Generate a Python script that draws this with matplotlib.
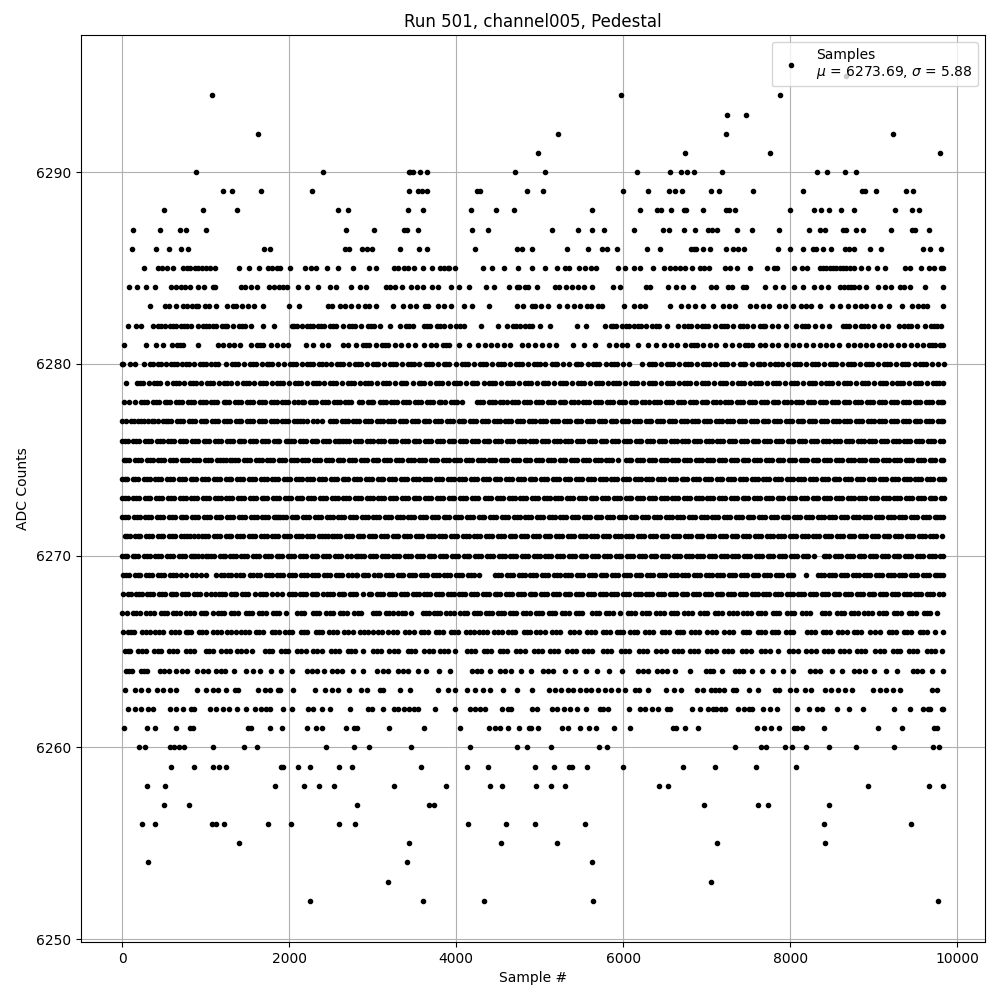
import matplotlib
matplotlib.use("Agg")
import matplotlib.pyplot as plt

c6295 = [8674]
c6294 = [1081, 5973, 7874]
c6293 = [7250, 7466]
c6292 = [1633, 5217, 7238, 9230]
c6291 = [4977, 6741, 7754, 9794]
c6290 = [890, 2411, 3440, 3453, 3481, 3573, 3649, 4701, 5061, 6165, 6561, 6693, 6765, 6849, 7190, 8318, 8438, 8654, 8786]
c6289 = [1214, 1322, 1668, 2280, 3440, 3549, 3589, 3649, 4253, 4285, 4845, 5037, 5997, 6297, 6549, 6621, 6705, 7058, 7154, 7550, 8150, 8858, 8894, 9026, 9386, 9470]
c6288 = [497, 964, 1371, 2585, 2705, 3429, 3609, 4173, 4473, 4689, 5625, 6201, 6405, 6453, 6573, 6729, 6753, 6962, 7238, 7274, 7346, 7994, 8282, 8366, 8462, 8606, 8762, 9254, 9458, 9542]
c6287 = [125, 449, 689, 761, 1001, 2681, 3017, 3377, 3413, 3549, 4189, 4385, 5145, 5457, 5625, 5769, 6129, 6477, 6549, 6729, 6861, 7022, 7070, 7130, 7370, 7538, 7862, 8222, 8354, 8414, 8634, 8666, 8786, 8870, 9206, 9458, 9494, 9662]
c6286 = [113, 401, 557, 701, 785, 1697, 1773, 2669, 2717, 2873, 2933, 2993, 3329, 3561, 3657, 4221, 4725, 4785, 4905, 5329, 5577, 5745, 5805, 5921, 6285, 6441, 6813, 6854, 6873, 6962, 7046, 7238, 7322, 7382, 7442, 7850, 7994, 8150, 8270, 8306, 8390, 8486, 8654, 8702, 8762, 8958, 9094, 9590, 9674, 9806]
c6285 = [257, 425, 473, 533, 605, 729, 777, 809, 869, 905, 953, 1001, 1049, 1109, 1397, 1517, 1637, 1745, 1800, 1860, 1889, 2009, 2189, 2261, 2321, 2453, 2589, 2765, 2953, 3041, 3257, 3309, 3381, 3421, 3493, 3609, 3717, 3813, 3850, 3900, 3921, 3981, 4317, 4425, 4569, 4741, 4905, 5061, 5209, 5301, 5349, 5469, 5541, 5613, 5673, 5933, 6021, 6129, 6201, 6357, 6489, 6561, 6621, 6681, 6741, 6821, 6926, 6974, 7034, 7226, 7286, 7370, 7514, 7718, 7802, 7838, 8042, 8138, 8198, 8354, 8394, 8434, 8474, 8514, 8554, 8594, 8634, 8674, 8714, 8762, 8846, 8930, 9038, 9134, 9374, 9434, 9562, 9662, 9722, 9806, 9830]
c6284 = [77, 173, 281, 389, 589, 640, 700, 749, 809, 909, 981, 1089, 1117, 1421, 1469, 1541, 1613, 1757, 1821, 1877, 1929, 1969, 2105, 2213, 2345, 2489, 2561, 2741, 2849, 2921, 3161, 3209, 3269, 3349, 3461, 3533, 3609, 3717, 3781, 3933, 4029, 4149, 4353, 4457, 4629, 4725, 4749, 4821, 4861, 4969, 5189, 5229, 5313, 5385, 5457, 5529, 5625, 5877, 5961, 6273, 6321, 6537, 6633, 6721, 6837, 7058, 7118, 7262, 7310, 7430, 7466, 7694, 7814, 7910, 8042, 8150, 8282, 8366, 8450, 8594, 8640, 8690, 8730, 8770, 8820, 8914, 9050, 9134, 9214, 9314, 9362, 9434, 9614, 9830]
c6283 = [329, 509, 557, 641, 729, 781, 833, 889, 909, 989, 1040, 1129, 1261, 1329, 1369, 1433, 1505, 1581, 1685, 1997, 2117, 2461, 2517, 2609, 2669, 2741, 2829, 2909, 2957, 3045, 3241, 3369, 3453, 3521, 3629, 3661, 3789, 3861, 3933, 4089, 4185, 4389, 4725, 4801, 4909, 4941, 5013, 5097, 5229, 5325, 5409, 5481, 5565, 5621, 5701, 5749, 6009, 6129, 6201, 6261, 6561, 6693, 6781, 6861, 6954, 7082, 7202, 7274, 7346, 7514, 7594, 7674, 7742, 7862, 7934, 8034, 8126, 8194, 8254, 8354, 8498, 8594, 8694, 8774, 8854, 8914, 8994, 9074, 9182, 9338, 9458, 9534, 9594, 9642, 9830]
c6282 = [75, 165, 230, 365, 425, 470, 510, 575, 610, 640, 700, 745, 772, 830, 905, 965, 1010, 1040, 1090, 1130, 1195, 1230, 1260, 1330, 1395, 1435, 1470, 1540, 1690, 1815, 2030, 2060, 2095, 2160, 2215, 2250, 2290, 2350, 2385, 2420, 2490, 2525, 2560, 2640, 2720, 2755, 2790, 2860, 2945, 2980, 3020, 3090, 3210, 3330, 3400, 3440, 3480, 3610, 3650, 3690, 3770, 3810, 3850, 3930, 4000, 4045, 4090, 4300, 4500, 4610, 4680, 4720, 4760, 4830, 4870, 4910, 5010, 5125, 5450, 5560, 5780, 5850, 5885, 5920, 5990, 6030, 6065, 6135, 6175, 6210, 6275, 6350, 6390, 6425, 6520, 6660, 6735, 6775, 6810, 6880, 6950, 6985, 7020, 7105, 7170, 7210, 7245, 7320, 7400, 7440, 7480, 7560, 7640, 7670, 7700, 7780, 7860, 7945, 8070, 8140, 8175, 8210, 8300, 8385, 8460, 8630, 8670, 8710, 8780, 8850, 8890, 8930, 9010, 9100, 9170, 9300, 9370, 9410, 9450, 9520, 9610, 9685, 9725, 9760, 9810]
c6281 = [25, 290, 405, 485, 600, 660, 695, 730, 905, 1150, 1205, 1280, 1345, 1410, 1545, 1620, 1655, 1690, 1785, 1850, 1925, 1985, 2200, 2290, 2400, 2470, 2640, 2710, 2800, 2880, 2920, 2960, 3040, 3115, 3150, 3190, 3265, 3345, 3430, 3505, 3620, 3700, 3765, 3840, 3875, 3910, 4040, 4160, 4260, 4345, 4420, 4490, 4575, 4650, 4790, 4860, 4940, 5030, 5110, 5195, 5400, 5530, 5660, 5830, 5920, 5985, 6050, 6180, 6300, 6390, 6490, 6570, 6645, 6740, 6815, 6850, 6890, 6955, 7040, 7115, 7225, 7310, 7390, 7460, 7500, 7545, 7635, 7705, 7780, 7860, 7945, 8030, 8105, 8185, 8280, 8355, 8425, 8500, 8590, 8690, 8770, 8840, 8905, 8980, 9060, 9135, 9210, 9295, 9370, 9445, 9515, 9590, 9665, 9700, 9740, 9800, 9830]
c6280 = [0, 15, 95, 160, 260, 330, 375, 430, 465, 530, 590, 625, 655, 720, 765, 800, 860, 930, 970, 1000, 1070, 1110, 1150, 1250, 1320, 1355, 1390, 1465, 1530, 1570, 1600, 1670, 1730, 1765, 1800, 1865, 1935, 2010, 2045, 2080, 2150, 2215, 2250, 2290, 2360, 2400, 2440, 2505, 2575, 2610, 2650, 2720, 2790, 2825, 2860, 2930, 3000, 3035, 3070, 3140, 3210, 3245, 3285, 3350, 3420, 3455, 3490, 3560, 3640, 3675, 3710, 3780, 3850, 3885, 3920, 4000, 4075, 4110, 4145, 4220, 4290, 4325, 4360, 4430, 4500, 4535, 4570, 4640, 4715, 4750, 4790, 4860, 4930, 4965, 5000, 5070, 5145, 5180, 5210, 5280, 5355, 5430, 5465, 5500, 5575, 5640, 5680, 5715, 5790, 5860, 5895, 5930, 6000, 6075, 6230, 6310, 6345, 6380, 6450, 6525, 6560, 6600, 6670, 6745, 6780, 6815, 6885, 6960, 6995, 7030, 7105, 7175, 7210, 7250, 7320, 7395, 7430, 7465, 7540, 7610, 7645, 7685, 7755, 7825, 7860, 7900, 7970, 8045, 8080, 8115, 8190, 8260, 8295, 8335, 8405, 8480, 8515, 8550, 8625, 8695, 8730, 8765, 8840, 8910, 8945, 8985, 9055, 9125, 9160, 9200, 9270, 9345, 9380, 9415, 9490, 9560, 9595, 9630, 9705, 9775, 9842]
c6279 = [45, 180, 215, 245, 320, 385, 420, 455, 540, 610, 645, 680, 745, 815, 850, 880, 950, 1020, 1055, 1085, 1155, 1225, 1260, 1300, 1375, 1445, 1480, 1515, 1585, 1650, 1685, 1720, 1790, 1860, 1895, 1930, 2000, 2070, 2105, 2140, 2210, 2285, 2320, 2355, 2420, 2490, 2525, 2560, 2630, 2705, 2740, 2775, 2845, 2915, 2950, 2985, 3055, 3125, 3160, 3195, 3265, 3335, 3370, 3405, 3480, 3550, 3585, 3620, 3690, 3760, 3795, 3830, 3905, 3975, 4010, 4045, 4115, 4185, 4220, 4255, 4330, 4400, 4435, 4470, 4540, 4610, 4645, 4680, 4750, 4825, 4860, 4895, 4965, 5035, 5070, 5105, 5175, 5250, 5285, 5320, 5390, 5460, 5495, 5530, 5600, 5675, 5710, 5745, 5815, 5885, 5920, 5955, 6025, 6100, 6135, 6170, 6240, 6310, 6345, 6380, 6450, 6525, 6560, 6595, 6665, 6735, 6770, 6805, 6875, 6950, 6985, 7020, 7090, 7160, 7195, 7230, 7300, 7375, 7410, 7445, 7515, 7585, 7620, 7655, 7725, 7800, 7835, 7870, 7940, 8010, 8045, 8080, 8150, 8225, 8260, 8295, 8365, 8435, 8470, 8505, 8575, 8650, 8685, 8720, 8790, 8860, 8895, 8930, 9000, 9075, 9110, 9145, 9215, 9285, 9320, 9355, 9425, 9500, 9535, 9570, 9640, 9710, 9745, 9780, 9835]
c6278 = [17, 85, 150, 225, 262, 301, 369, 405, 440, 510, 540, 575, 650, 685, 720, 790, 825, 860, 930, 965, 1000, 1070, 1105, 1141, 1217, 1250, 1285, 1355, 1390, 1425, 1495, 1530, 1565, 1640, 1675, 1710, 1780, 1815, 1850, 1920, 1955, 1990, 2060, 2110, 2157, 2181, 2250, 2285, 2320, 2395, 2430, 2465, 2535, 2570, 2605, 2675, 2710, 2745, 2841, 2869, 2940, 2975, 3010, 3085, 3120, 3155, 3225, 3260, 3295, 3365, 3400, 3440, 3510, 3545, 3580, 3650, 3685, 3720, 3790, 3825, 3865, 3935, 3970, 4005, 4075, 4250, 4285, 4320, 4390, 4425, 4460, 4530, 4565, 4605, 4675, 4710, 4745, 4815, 4850, 4885, 4955, 4990, 5030, 5100, 5135, 5170, 5240, 5275, 5310, 5380, 5415, 5455, 5525, 5560, 5595, 5665, 5700, 5735, 5805, 5840, 5880, 5950, 5985, 6020, 6090, 6125, 6160, 6230, 6265, 6305, 6375, 6410, 6445, 6515, 6550, 6585, 6655, 6690, 6730, 6800, 6835, 6870, 6940, 6975, 7010, 7080, 7115, 7155, 7225, 7260, 7295, 7365, 7400, 7435, 7505, 7540, 7580, 7650, 7685, 7720, 7790, 7825, 7860, 7930, 7965, 8005, 8075, 8110, 8145, 8215, 8250, 8285, 8355, 8390, 8430, 8500, 8535, 8570, 8640, 8675, 8710, 8780, 8815, 8855, 8925, 8960, 8995, 9065, 9100, 9135, 9205, 9240, 9280, 9350, 9385, 9420, 9490, 9525, 9560, 9630, 9665, 9705, 9775, 9810, 9835]
c6277 = [0, 50, 110, 140, 190, 230, 257, 310, 360, 377, 435, 489, 521, 555, 590, 660, 695, 730, 800, 835, 870, 940, 975, 1010, 1080, 1115, 1150, 1220, 1255, 1290, 1360, 1395, 1430, 1500, 1535, 1570, 1640, 1675, 1710, 1780, 1815, 1850, 1920, 1955, 1990, 2060, 2095, 2130, 2170, 2209, 2289, 2340, 2397, 2489, 2525, 2560, 2630, 2665, 2700, 2770, 2805, 2840, 2910, 2945, 2980, 3050, 3085, 3120, 3190, 3225, 3260, 3330, 3365, 3400, 3470, 3505, 3540, 3610, 3645, 3680, 3750, 3785, 3820, 3890, 3925, 3960, 4030, 4065, 4100, 4170, 4205, 4240, 4310, 4345, 4380, 4450, 4485, 4520, 4590, 4625, 4660, 4730, 4765, 4800, 4870, 4905, 4940, 5010, 5045, 5080, 5150, 5185, 5220, 5290, 5325, 5360, 5430, 5465, 5500, 5570, 5605, 5640, 5710, 5745, 5780, 5850, 5885, 5920, 5990, 6025, 6060, 6130, 6165, 6200, 6270, 6305, 6340, 6410, 6445, 6480, 6550, 6585, 6620, 6690, 6725, 6760, 6830, 6865, 6900, 6970, 7005, 7040, 7110, 7145, 7180, 7250, 7285, 7320, 7390, 7425, 7460, 7530, 7565, 7600, 7670, 7705, 7740, 7810, 7845, 7880, 7950, 7985, 8020, 8090, 8125, 8160, 8230, 8265, 8300, 8370, 8405, 8440, 8510, 8545, 8580, 8650, 8685, 8720, 8790, 8825, 8860, 8930, 8965, 9000, 9070, 9105, 9140, 9210, 9245, 9280, 9350, 9385, 9420, 9490, 9525, 9560, 9630, 9665, 9700, 9770, 9805, 9835]
c6276 = [0, 30, 65, 135, 170, 205, 275, 310, 345, 415, 450, 485, 555, 590, 625, 695, 730, 765, 835, 870, 905, 975, 1010, 1045, 1115, 1150, 1185, 1255, 1290, 1325, 1395, 1430, 1465, 1535, 1570, 1605, 1675, 1710, 1745, 1815, 1850, 1885, 1957, 1989, 2025, 2060, 2130, 2165, 2200, 2270, 2305, 2340, 2410, 2445, 2480, 2550, 2580, 2613, 2649, 2685, 2720, 2790, 2825, 2860, 2930, 2965, 3000, 3070, 3105, 3140, 3210, 3245, 3280, 3350, 3385, 3420, 3490, 3525, 3560, 3630, 3665, 3700, 3770, 3805, 3840, 3910, 3945, 3980, 4050, 4085, 4120, 4190, 4225, 4260, 4330, 4365, 4400, 4470, 4505, 4540, 4610, 4645, 4680, 4750, 4785, 4820, 4890, 4925, 4960, 5030, 5065, 5100, 5170, 5205, 5240, 5310, 5345, 5380, 5450, 5485, 5520, 5590, 5625, 5660, 5730, 5765, 5800, 5870, 5905, 5940, 6010, 6045, 6080, 6150, 6185, 6220, 6290, 6325, 6360, 6430, 6465, 6500, 6570, 6605, 6640, 6710, 6745, 6780, 6850, 6885, 6920, 6990, 7025, 7060, 7130, 7165, 7200, 7270, 7305, 7340, 7410, 7445, 7480, 7550, 7585, 7620, 7690, 7725, 7760, 7830, 7865, 7900, 7970, 8005, 8040, 8110, 8145, 8180, 8250, 8285, 8320, 8390, 8425, 8460, 8530, 8565, 8600, 8670, 8705, 8740, 8810, 8845, 8880, 8950, 8985, 9020, 9090, 9125, 9160, 9230, 9265, 9300, 9370, 9405, 9440, 9510, 9545, 9580, 9650, 9685, 9720, 9790, 9835]
c6275 = [17, 50, 85, 155, 190, 225, 295, 330, 365, 435, 470, 505, 575, 610, 645, 715, 750, 785, 855, 890, 925, 995, 1030, 1065, 1135, 1170, 1205, 1250, 1297, 1317, 1355, 1390, 1460, 1495, 1530, 1600, 1635, 1670, 1740, 1775, 1810, 1880, 1915, 1950, 2020, 2055, 2090, 2160, 2195, 2230, 2300, 2335, 2370, 2440, 2475, 2510, 2580, 2615, 2650, 2720, 2755, 2790, 2860, 2895, 2930, 3000, 3035, 3070, 3140, 3175, 3210, 3280, 3315, 3350, 3420, 3455, 3490, 3560, 3595, 3630, 3700, 3735, 3770, 3840, 3875, 3910, 3980, 4015, 4050, 4120, 4155, 4190, 4260, 4295, 4330, 4400, 4435, 4470, 4540, 4575, 4610, 4680, 4715, 4750, 4820, 4855, 4890, 4960, 4995, 5030, 5100, 5135, 5170, 5240, 5275, 5310, 5380, 5415, 5450, 5520, 5555, 5590, 5660, 5695, 5730, 5800, 5835, 5870, 5940, 6040, 6070, 6100, 6170, 6205, 6240, 6310, 6345, 6380, 6450, 6485, 6520, 6590, 6625, 6660, 6730, 6765, 6800, 6870, 6905, 6940, 7010, 7045, 7080, 7150, 7185, 7220, 7290, 7325, 7360, 7430, 7465, 7500, 7570, 7605, 7640, 7710, 7745, 7780, 7850, 7885, 7920, 7990, 8025, 8060, 8130, 8165, 8200, 8270, 8305, 8340, 8410, 8445, 8480, 8550, 8585, 8620, 8690, 8725, 8760, 8830, 8865, 8900, 8970, 9005, 9040, 9110, 9145, 9180, 9250, 9285, 9320, 9390, 9425, 9460, 9530, 9565, 9600, 9670, 9705, 9740, 9810, 9835]
c6274 = [0, 30, 60, 125, 160, 190, 260, 295, 330, 400, 435, 470, 540, 575, 610, 680, 715, 750, 820, 855, 890, 960, 995, 1030, 1100, 1135, 1170, 1240, 1275, 1310, 1380, 1415, 1450, 1520, 1555, 1590, 1660, 1695, 1730, 1800, 1835, 1870, 1940, 1975, 2010, 2080, 2115, 2150, 2220, 2255, 2290, 2360, 2395, 2430, 2500, 2535, 2570, 2640, 2675, 2710, 2780, 2815, 2850, 2920, 2955, 2990, 3060, 3095, 3130, 3200, 3235, 3270, 3340, 3375, 3410, 3480, 3515, 3550, 3620, 3655, 3690, 3760, 3795, 3830, 3900, 3935, 3970, 4040, 4075, 4110, 4180, 4215, 4250, 4320, 4355, 4390, 4460, 4495, 4530, 4600, 4635, 4670, 4740, 4775, 4810, 4880, 4915, 4950, 5020, 5055, 5090, 5160, 5195, 5230, 5300, 5335, 5370, 5440, 5475, 5510, 5580, 5615, 5650, 5720, 5755, 5790, 5860, 5895, 5930, 6000, 6035, 6070, 6140, 6175, 6210, 6280, 6315, 6350, 6420, 6455, 6490, 6560, 6595, 6630, 6700, 6735, 6770, 6840, 6875, 6910, 6980, 7015, 7050, 7120, 7155, 7190, 7260, 7295, 7330, 7400, 7435, 7470, 7540, 7575, 7610, 7680, 7715, 7750, 7820, 7855, 7890, 7960, 7995, 8030, 8100, 8135, 8170, 8240, 8275, 8310, 8380, 8415, 8450, 8520, 8555, 8590, 8660, 8695, 8730, 8800, 8835, 8870, 8940, 8975, 9010, 9080, 9115, 9150, 9220, 9255, 9290, 9360, 9395, 9430, 9500, 9535, 9570, 9640, 9675, 9710, 9780, 9815, 9838]
c6273 = [0, 35, 65, 130, 165, 200, 270, 305, 340, 410, 445, 480, 550, 585, 620, 690, 725, 760, 830, 865, 900, 970, 1005, 1040, 1110, 1145, 1180, 1250, 1285, 1320, 1390, 1425, 1460, 1530, 1565, 1600, 1670, 1705, 1740, 1810, 1845, 1880, 1950, 1985, 2020, 2090, 2125, 2160, 2230, 2265, 2300, 2370, 2405, 2440, 2510, 2545, 2580, 2650, 2685, 2720, 2790, 2825, 2860, 2930, 2965, 3000, 3070, 3105, 3140, 3210, 3245, 3280, 3350, 3385, 3420, 3490, 3525, 3560, 3630, 3665, 3700, 3770, 3805, 3840, 3910, 3945, 3980, 4050, 4085, 4120, 4190, 4225, 4260, 4350, 4385, 4420, 4490, 4525, 4560, 4630, 4665, 4700, 4770, 4805, 4840, 4910, 4945, 4980, 5050, 5085, 5120, 5190, 5225, 5260, 5330, 5365, 5400, 5470, 5505, 5540, 5610, 5645, 5680, 5750, 5785, 5820, 5890, 5925, 5960, 6030, 6065, 6100, 6170, 6205, 6240, 6310, 6345, 6380, 6450, 6485, 6520, 6590, 6625, 6660, 6730, 6765, 6800, 6870, 6905, 6940, 7010, 7045, 7080, 7150, 7185, 7220, 7290, 7325, 7360, 7430, 7465, 7500, 7570, 7605, 7640, 7710, 7745, 7780, 7850, 7885, 7920, 7990, 8025, 8060, 8130, 8165, 8200, 8270, 8305, 8340, 8410, 8445, 8480, 8550, 8585, 8620, 8690, 8725, 8760, 8830, 8865, 8900, 8970, 9005, 9040, 9110, 9145, 9180, 9250, 9285, 9320, 9390, 9425, 9460, 9530, 9565, 9600, 9670, 9705, 9740, 9810, 9842]
c6272 = [0, 35, 70, 140, 175, 210, 280, 315, 350, 420, 455, 490, 560, 595, 630, 700, 735, 770, 840, 875, 910, 980, 1015, 1050, 1120, 1155, 1190, 1260, 1295, 1330, 1400, 1435, 1470, 1540, 1575, 1610, 1680, 1715, 1750, 1820, 1845, 1869, 1889, 1925, 1960, 2030, 2065, 2100, 2170, 2205, 2240, 2310, 2345, 2380, 2450, 2485, 2520, 2590, 2625, 2660, 2730, 2765, 2800, 2870, 2905, 2940, 3010, 3045, 3080, 3150, 3185, 3220, 3290, 3325, 3360, 3430, 3465, 3500, 3570, 3605, 3640, 3710, 3745, 3780, 3850, 3885, 3920, 3990, 4025, 4060, 4130, 4165, 4200, 4270, 4305, 4340, 4410, 4445, 4480, 4550, 4585, 4620, 4690, 4725, 4760, 4830, 4865, 4900, 4970, 5005, 5040, 5110, 5145, 5180, 5250, 5285, 5320, 5390, 5425, 5460, 5530, 5565, 5600, 5670, 5705, 5740, 5810, 5845, 5880, 5950, 5985, 6020, 6090, 6125, 6160, 6230, 6265, 6300, 6370, 6405, 6440, 6510, 6545, 6580, 6650, 6685, 6720, 6790, 6825, 6860, 6930, 6965, 7000, 7070, 7105, 7140, 7210, 7245, 7280, 7350, 7385, 7420, 7490, 7525, 7560, 7630, 7665, 7700, 7770, 7805, 7840, 7910, 7945, 7980, 8050, 8085, 8120, 8190, 8225, 8260, 8330, 8365, 8400, 8470, 8505, 8540, 8610, 8645, 8680, 8750, 8785, 8820, 8890, 8925, 8960, 9030, 9065, 9100, 9170, 9205, 9240, 9310, 9345, 9380, 9450, 9485, 9520, 9590, 9625, 9660, 9730, 9765, 9800, 9835]
c6271 = [30, 60, 90, 150, 185, 215, 285, 320, 355, 425, 460, 495, 565, 600, 635, 705, 740, 775, 817, 857, 909, 961, 995, 1030, 1100, 1135, 1170, 1240, 1275, 1310, 1380, 1415, 1450, 1520, 1555, 1590, 1660, 1695, 1730, 1800, 1835, 1870, 1940, 1975, 2010, 2080, 2115, 2150, 2220, 2255, 2290, 2360, 2395, 2430, 2470, 2509, 2537, 2575, 2610, 2680, 2715, 2750, 2820, 2855, 2890, 2960, 2995, 3030, 3100, 3135, 3170, 3240, 3275, 3310, 3380, 3415, 3450, 3520, 3555, 3590, 3660, 3695, 3730, 3800, 3835, 3870, 3940, 3975, 4010, 4080, 4115, 4150, 4220, 4255, 4290, 4360, 4395, 4430, 4500, 4535, 4570, 4640, 4675, 4710, 4780, 4815, 4850, 4920, 4955, 4990, 5060, 5095, 5130, 5200, 5235, 5270, 5340, 5375, 5410, 5480, 5515, 5550, 5620, 5655, 5690, 5760, 5795, 5830, 5900, 5935, 5970, 6040, 6075, 6110, 6180, 6215, 6250, 6320, 6355, 6390, 6460, 6495, 6530, 6600, 6635, 6670, 6740, 6775, 6810, 6880, 6915, 6950, 7020, 7055, 7090, 7160, 7195, 7230, 7300, 7335, 7370, 7440, 7475, 7510, 7580, 7615, 7650, 7720, 7755, 7790, 7860, 7895, 7930, 8000, 8035, 8070, 8140, 8175, 8210, 8280, 8315, 8350, 8420, 8455, 8490, 8560, 8595, 8630, 8700, 8735, 8770, 8840, 8875, 8910, 8980, 9015, 9050, 9120, 9155, 9190, 9260, 9295, 9330, 9400, 9435, 9470, 9540, 9575, 9610, 9680, 9715, 9750, 9820]
c6270 = [0, 30, 60, 125, 160, 190, 260, 295, 330, 400, 435, 470, 540, 575, 610, 680, 715, 750, 820, 850, 877, 909, 960, 1009, 1029, 1065, 1100, 1170, 1205, 1237, 1289, 1325, 1360, 1430, 1465, 1500, 1570, 1605, 1640, 1710, 1745, 1780, 1850, 1885, 1920, 1990, 2025, 2060, 2130, 2165, 2200, 2270, 2305, 2340, 2410, 2445, 2480, 2550, 2585, 2620, 2690, 2745, 2797, 2829, 2865, 2900, 2970, 3005, 3040, 3110, 3145, 3180, 3250, 3285, 3320, 3390, 3425, 3460, 3530, 3565, 3600, 3670, 3705, 3740, 3810, 3845, 3880, 3950, 3985, 4020, 4090, 4125, 4160, 4230, 4265, 4300, 4370, 4405, 4440, 4510, 4545, 4580, 4650, 4685, 4720, 4790, 4825, 4860, 4930, 4965, 5000, 5070, 5105, 5140, 5210, 5245, 5280, 5350, 5385, 5420, 5490, 5525, 5560, 5630, 5665, 5700, 5770, 5805, 5840, 5910, 5945, 5980, 6050, 6085, 6120, 6190, 6225, 6260, 6330, 6365, 6400, 6470, 6505, 6540, 6610, 6645, 6680, 6750, 6785, 6820, 6890, 6925, 6960, 7030, 7065, 7100, 7170, 7205, 7240, 7310, 7345, 7380, 7450, 7485, 7520, 7590, 7625, 7660, 7730, 7765, 7800, 7870, 7905, 7940, 8010, 8045, 8080, 8150, 8185, 8220, 8290, 8400, 8435, 8470, 8540, 8575, 8610, 8680, 8715, 8750, 8820, 8855, 8890, 8960, 8995, 9030, 9100, 9135, 9170, 9240, 9275, 9310, 9380, 9415, 9450, 9520, 9555, 9590, 9660, 9695, 9730, 9800, 9835]
c6269 = [15, 50, 80, 150, 185, 220, 290, 325, 360, 430, 465, 500, 570, 605, 640, 710, 760, 840, 885, 950, 1000, 1129, 1189, 1225, 1265, 1300, 1370, 1410, 1449, 1529, 1569, 1610, 1650, 1720, 1755, 1790, 1860, 1895, 1930, 2000, 2035, 2070, 2140, 2175, 2210, 2280, 2315, 2350, 2420, 2455, 2490, 2560, 2595, 2630, 2700, 2750, 2797, 2813, 2880, 2915, 2950, 3020, 3061, 3090, 3160, 3195, 3230, 3300, 3335, 3370, 3440, 3475, 3510, 3580, 3615, 3650, 3720, 3755, 3790, 3860, 3895, 3930, 4000, 4035, 4070, 4140, 4175, 4210, 4280, 4470, 4505, 4540, 4610, 4645, 4680, 4750, 4785, 4820, 4890, 4925, 4960, 5030, 5065, 5100, 5170, 5205, 5240, 5310, 5345, 5380, 5450, 5485, 5520, 5590, 5625, 5660, 5730, 5765, 5800, 5870, 5905, 5940, 6010, 6045, 6080, 6150, 6185, 6220, 6290, 6325, 6360, 6430, 6465, 6500, 6570, 6605, 6640, 6710, 6745, 6780, 6850, 6885, 6920, 6990, 7025, 7060, 7130, 7165, 7200, 7270, 7305, 7340, 7410, 7445, 7480, 7550, 7585, 7620, 7690, 7725, 7760, 7830, 7865, 7900, 7970, 8005, 8040, 8190, 8330, 8365, 8400, 8470, 8505, 8540, 8610, 8645, 8680, 8750, 8785, 8820, 8890, 8925, 8960, 9030, 9065, 9100, 9170, 9205, 9240, 9310, 9345, 9380, 9450, 9485, 9520, 9590, 9625, 9660, 9730, 9765, 9800, 9835]
c6268 = [15, 70, 105, 170, 205, 240, 300, 335, 370, 440, 475, 510, 580, 615, 650, 720, 755, 790, 860, 895, 930, 1000, 1060, 1109, 1161, 1200, 1237, 1300, 1335, 1370, 1440, 1475, 1510, 1590, 1650, 1685, 1720, 1790, 1850, 1913, 2000, 2035, 2070, 2130, 2165, 2200, 2270, 2305, 2340, 2410, 2450, 2490, 2529, 2601, 2630, 2660, 2730, 2765, 2800, 2890, 2957, 2981, 3050, 3090, 3130, 3200, 3235, 3270, 3340, 3375, 3410, 3480, 3515, 3550, 3620, 3655, 3690, 3760, 3795, 3830, 3900, 3935, 3970, 4040, 4075, 4110, 4180, 4215, 4250, 4320, 4355, 4390, 4460, 4495, 4530, 4600, 4635, 4670, 4740, 4775, 4810, 4880, 4915, 4950, 5020, 5055, 5090, 5160, 5195, 5230, 5300, 5335, 5370, 5440, 5475, 5510, 5580, 5615, 5650, 5720, 5755, 5790, 5860, 5895, 5930, 6000, 6035, 6070, 6140, 6175, 6210, 6280, 6315, 6350, 6420, 6455, 6490, 6560, 6595, 6630, 6700, 6735, 6770, 6840, 6875, 6910, 6980, 7015, 7050, 7120, 7155, 7190, 7260, 7295, 7330, 7400, 7435, 7470, 7540, 7575, 7610, 7680, 7715, 7750, 7820, 7855, 7890, 7960, 7995, 8030, 8100, 8135, 8170, 8240, 8275, 8310, 8380, 8415, 8450, 8520, 8555, 8590, 8660, 8695, 8730, 8800, 8835, 8870, 8940, 8975, 9010, 9080, 9115, 9150, 9220, 9255, 9290, 9360, 9395, 9430, 9500, 9535, 9570, 9640, 9675, 9710, 9780, 9830]
c6267 = [0, 55, 130, 170, 210, 290, 335, 380, 470, 505, 540, 610, 650, 690, 770, 815, 860, 940, 975, 1010, 1090, 1150, 1190, 1225, 1300, 1345, 1390, 1480, 1515, 1550, 1640, 1680, 1720, 1810, 1845, 1880, 1960, 2100, 2140, 2180, 2290, 2325, 2360, 2440, 2485, 2530, 2610, 2650, 2690, 2780, 2820, 2860, 3000, 3040, 3080, 3160, 3200, 3240, 3310, 3350, 3390, 3460, 3600, 3635, 3670, 3740, 3775, 3810, 3880, 3925, 3970, 4050, 4090, 4130, 4210, 4250, 4290, 4360, 4395, 4430, 4500, 4535, 4570, 4640, 4680, 4720, 4800, 4840, 4880, 4960, 4995, 5030, 5110, 5150, 5190, 5270, 5310, 5350, 5430, 5470, 5510, 5630, 5670, 5710, 5790, 5835, 5880, 5960, 6060, 6100, 6140, 6230, 6270, 6310, 6400, 6445, 6490, 6570, 6610, 6650, 6730, 6780, 6830, 6920, 6965, 7010, 7100, 7140, 7180, 7270, 7315, 7360, 7440, 7485, 7530, 7610, 7655, 7700, 7790, 7830, 7870, 7960, 8005, 8050, 8140, 8190, 8240, 8380, 8420, 8460, 8560, 8605, 8650, 8730, 8770, 8810, 8890, 8935, 8980, 9070, 9110, 9150, 9240, 9285, 9330, 9420, 9465, 9510, 9600, 9640, 9680, 9760]
c6266 = [5, 70, 105, 140, 240, 285, 330, 400, 445, 490, 590, 635, 680, 760, 795, 830, 920, 960, 1000, 1090, 1135, 1180, 1260, 1310, 1360, 1430, 1475, 1520, 1600, 1645, 1690, 1790, 1835, 1880, 1950, 1995, 2040, 2140, 2180, 2220, 2320, 2360, 2400, 2480, 2525, 2570, 2660, 2710, 2760, 2850, 2895, 2940, 3010, 3060, 3110, 3190, 3240, 3290, 3390, 3440, 3490, 3580, 3620, 3660, 3760, 3800, 3840, 3940, 3980, 4020, 4120, 4165, 4210, 4280, 4325, 4370, 4450, 4500, 4550, 4620, 4665, 4710, 4810, 4850, 4890, 4960, 5010, 5060, 5150, 5200, 5250, 5360, 5415, 5470, 5570, 5615, 5660, 5760, 5800, 5840, 5930, 5965, 6000, 6080, 6125, 6170, 6260, 6310, 6360, 6460, 6505, 6550, 6650, 6685, 6720, 6810, 6860, 6910, 7010, 7060, 7110, 7210, 7265, 7320, 7430, 7470, 7510, 7610, 7655, 7700, 7780, 7820, 7860, 7950, 7995, 8040, 8200, 8250, 8300, 8390, 8435, 8480, 8570, 8625, 8680, 8760, 8805, 8850, 8960, 9020, 9080, 9180, 9225, 9270, 9360, 9405, 9450, 9550, 9595, 9640, 9730, 9830]
c6265 = [30, 65, 100, 190, 240, 290, 380, 425, 470, 560, 610, 660, 760, 810, 860, 1000, 1045, 1090, 1190, 1240, 1290, 1380, 1430, 1480, 1560, 1710, 1755, 1800, 1900, 1945, 1990, 2090, 2145, 2200, 2290, 2340, 2390, 2500, 2550, 2600, 2700, 2745, 2790, 2890, 3010, 3055, 3100, 3200, 3255, 3310, 3420, 3465, 3510, 3620, 3670, 3720, 3810, 3855, 3900, 3990, 4130, 4180, 4230, 4330, 4375, 4420, 4520, 4565, 4610, 4720, 4770, 4820, 4930, 4980, 5030, 5120, 5170, 5220, 5330, 5385, 5440, 5530, 5580, 5630, 5760, 5810, 5860, 5970, 6020, 6070, 6190, 6240, 6290, 6400, 6455, 6510, 6610, 6655, 6700, 6800, 6850, 6900, 7000, 7055, 7110, 7210, 7260, 7310, 7420, 7475, 7530, 7650, 7705, 7760, 7860, 7990, 8040, 8090, 8190, 8250, 8310, 8400, 8450, 8500, 8600, 8650, 8700, 8800, 8850, 8900, 9020, 9075, 9130, 9230, 9275, 9320, 9420, 9470, 9520, 9640, 9685, 9730, 9820]
c6264 = [45, 80, 120, 230, 265, 300, 450, 505, 560, 650, 715, 780, 900, 965, 1030, 1130, 1180, 1230, 1340, 1480, 1565, 1650, 1780, 1900, 2030, 2210, 2275, 2340, 2420, 2510, 2570, 2630, 2760, 2880, 3050, 3120, 3190, 3300, 3360, 3420, 3540, 3640, 3790, 3930, 4190, 4245, 4300, 4410, 4520, 4590, 4660, 4780, 4900, 5040, 5100, 5160, 5310, 5420, 5550, 5690, 5830, 5990, 6180, 6240, 6300, 6410, 6465, 6520, 6620, 6800, 6990, 7035, 7080, 7190, 7340, 7390, 7440, 7540, 7660, 7790, 7920, 8040, 8240, 8300, 8360, 8500, 8620, 8760, 8830, 8900, 9010, 9150, 9280, 9470, 9525, 9580, 9700, 9830]
c6263 = [29, 149, 230, 309, 413, 489, 569, 649, 893, 1009, 1089, 1149, 1241, 1357, 1389, 1629, 1709, 1769, 1869, 1889, 2045, 2305, 2429, 2509, 2589, 2717, 2861, 2933, 3089, 3129, 3329, 3449, 3781, 3901, 3981, 4133, 4221, 4321, 4401, 4561, 4725, 4913, 5109, 5181, 5261, 5341, 5401, 5481, 5561, 5613, 5697, 5789, 5861, 5933, 6021, 6141, 6189, 6297, 6513, 6609, 6693, 6885, 6954, 7054, 7100, 7150, 7214, 7314, 7354, 7502, 7610, 7814, 7862, 7994, 8066, 8174, 8246, 8414, 8494, 8574, 8662, 8742, 8994, 9074, 9154, 9234, 9314, 9702, 9754]
c6262 = [69, 149, 229, 309, 369, 569, 649, 729, 829, 861, 1049, 1121, 1209, 1277, 1373, 1481, 1589, 1669, 1729, 1773, 1929, 2029, 2229, 2289, 2389, 2489, 2729, 2949, 2989, 3129, 3257, 3309, 3377, 3441, 3501, 3549, 3753, 3981, 4161, 4221, 4281, 4341, 4549, 4621, 4653, 4905, 4965, 5153, 5213, 5289, 5361, 5445, 5553, 5721, 5757, 5817, 6069, 6201, 6261, 6341, 6413, 6525, 6561, 6825, 6926, 7022, 7074, 7110, 7178, 7226, 7382, 7442, 7502, 7538, 7670, 7754, 7838, 8078, 8222, 8318, 8378, 8558, 8702, 8870, 9242, 9434, 9590, 9650, 9674, 9818, 9835]
c6261 = [17, 293, 389, 641, 809, 849, 1505, 1541, 1769, 1913, 2213, 2321, 2393, 2681, 2777, 2813, 3201, 3621, 4041, 4389, 4461, 4521, 4617, 4749, 4869, 4901, 4977, 5265, 5337, 5481, 5589, 5673, 5889, 6081, 6597, 6633, 6741, 6897, 7598, 7682, 7766, 7862, 8042, 8078, 8138, 8402, 9050, 9338, 9722, 9758]
c6260 = [197, 269, 569, 621, 681, 741, 1085, 1457, 1613, 2441, 2777, 2957, 3465, 4161, 4725, 4845, 5133, 5709, 5805, 7346, 7646, 7706, 7934, 8018, 8186, 8462, 8786, 9242, 9710, 9782]
c6259 = [581, 857, 1085, 1157, 1241, 1901, 1925, 2105, 2249, 2597, 2753, 3585, 4125, 4377, 4941, 5169, 5349, 5385, 5565, 5997, 6717, 7106, 7586, 8066]
c6258 = [293, 509, 1829, 2177, 2357, 2537, 3257, 3885, 4401, 4545, 4957, 5133, 5301, 6429, 6537, 8930, 9662, 9830]
c6257 = [497, 797, 2813, 3681, 3741, 6974, 7610, 7730, 8462]
c6256 = [233, 389, 1073, 1121, 1217, 1745, 2021, 2597, 2789, 4137, 4593, 4941, 5541, 8402, 9446]
c6255 = [1397, 3437, 4533, 5205, 7130, 8414]
c6254 = [305, 3413, 5625]
c6253 = [3185, 7058]
c6252 = [2249, 3609, 4329, 5637, 9770]

levels = [6295, 6294, 6293, 6292, 6291, 6290, 6289, 6288, 6287, 6286, 6285, 6284, 6283, 6282, 6281,
          6280, 6279, 6278, 6277, 6276, 6275, 6274, 6273, 6272, 6271, 6270, 6269, 6268, 6267, 6266,
          6265, 6264, 6263, 6262, 6261, 6260, 6259, 6258, 6257, 6256, 6255, 6254, 6253, 6252]
samples = [c6295, c6294, c6293, c6292, c6291, c6290, c6289, c6288, c6287, c6286, c6285, c6284, c6283, c6282, c6281,
           c6280, c6279, c6278, c6277, c6276, c6275, c6274, c6273, c6272, c6271, c6270, c6269, c6268, c6267, c6266,
           c6265, c6264, c6263, c6262, c6261, c6260, c6259, c6258, c6257, c6256, c6255, c6254, c6253, c6252]

xs, ys = [], []
for lev, row in zip(levels, samples):
    xs.extend(row)
    ys.extend([lev] * len(row))

fig, ax = plt.subplots(figsize=(10, 10), dpi=100)
ax.plot(xs, ys, 'k.', label="Samples\n$\\mu$ = 6273.69, $\\sigma$ = 5.88")
ax.set_title("Run 501, channel005, Pedestal")
ax.set_xlabel("Sample #")
ax.set_ylabel("ADC Counts")
ax.grid(True)
ax.ticklabel_format(useOffset=False, style='plain', axis='y')
ax.legend(loc='upper right')
fig.subplots_adjust(left=0.081, right=0.985, top=0.965, bottom=0.058)
fig.savefig("out.png", dpi=100)
